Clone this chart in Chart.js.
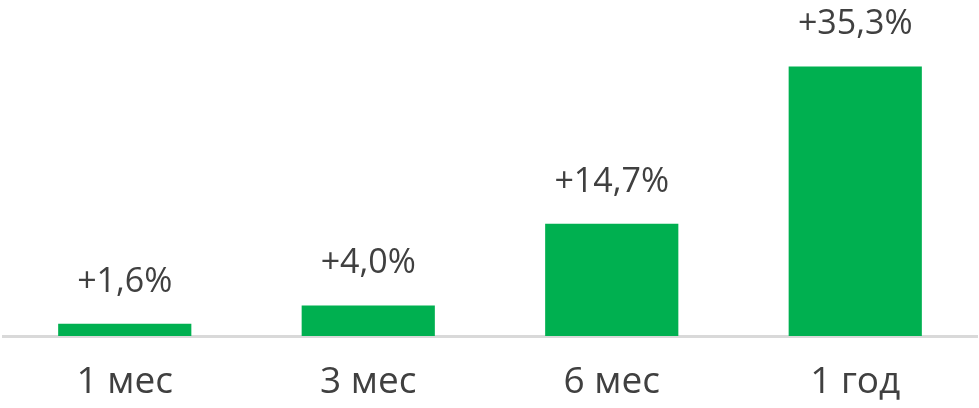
<!DOCTYPE html>
<html>
<head>
<meta charset="utf-8">
<script src="https://cdn.jsdelivr.net/npm/chart.js@4"></script>
<style>
  html, body { margin: 0; padding: 0; background: #fff; }
  #wrap { width: 979px; height: 408px; }
</style>
</head>
<body>
<div id="wrap"><canvas id="c"></canvas></div>
<script>
  const categories = ["1 мес", "3 мес", "6 мес", "1 год"];
  const growth = [1.6, 4.0, 14.7, 35.3];
  const valueLabels = ["+1,6%", "+4,0%", "+14,7%", "+35,3%"];

  const green = "#00b050";
  const textColor = "#404040";
  const fontFamily = "'Open Sans', 'Noto Sans', sans-serif";

  // draws the +x% text above each bar
  const valueLabelPlugin = {
    id: "valueLabels",
    afterDatasetsDraw(chart) {
      const ctx = chart.ctx;
      const meta = chart.getDatasetMeta(0);
      ctx.save();
      ctx.font = `34px ${fontFamily}`;
      ctx.fillStyle = textColor;
      ctx.textAlign = "center";
      ctx.textBaseline = "alphabetic";
      meta.data.forEach((bar, i) => {
        ctx.fillText(valueLabels[i], bar.x, bar.y - 32);
      });
      ctx.restore();
    },
  };

  new Chart(document.getElementById("c"), {
    type: "bar",
    data: {
      labels: categories,
      datasets: [
        {
          data: growth,
          backgroundColor: green,
          borderWidth: 0,
          barPercentage: 0.547,
          categoryPercentage: 1,
        },
      ],
    },
    options: {
      responsive: true,
      maintainAspectRatio: false,
      animation: false,
      layout: { padding: { left: 3, right: 2, top: 0, bottom: 0 } },
      plugins: { legend: { display: false }, tooltip: { enabled: false } },
      scales: {
        x: {
          grid: { display: false, drawTicks: false },
          border: { display: true, color: "#d9d9d9", width: 3 },
          ticks: { color: textColor, font: { family: fontFamily, size: 37 }, padding: 24 },
          afterFit: (scale) => {
            scale.height = 72;
          },
        },
        y: { display: false, min: 0, max: 44 },
      },
    },
    plugins: [valueLabelPlugin],
  });
</script>
</body>
</html>
